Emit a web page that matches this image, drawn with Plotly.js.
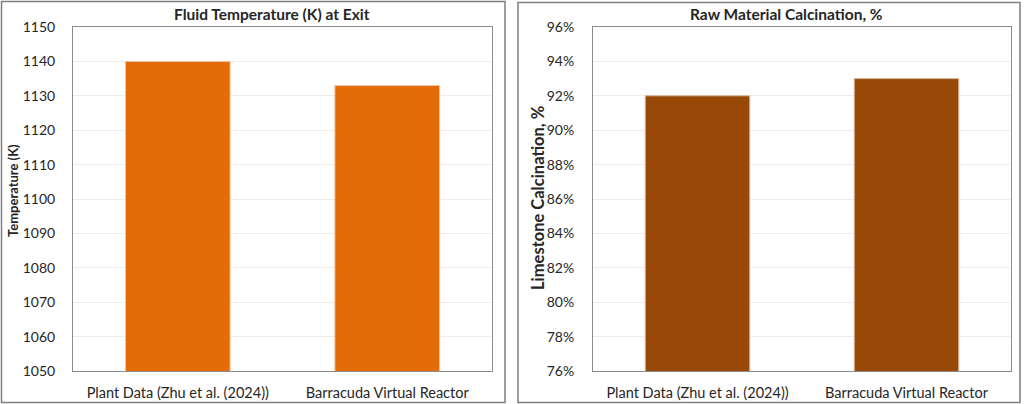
<!DOCTYPE html>
<html><head><meta charset="utf-8">
<script src="https://cdn.plot.ly/plotly-3.0.1.min.js"></script>
<style>html,body{margin:0;padding:0;background:#fff}#chart{width:1024px;height:404px}</style>
</head><body><div id="chart"></div>
<script>
const categories = ["Plant Data (Zhu et al. (2024))", "Barracuda Virtual Reactor"];
const temperatureK = [1140, 1133];
const calcinationPct = [0.92, 0.93];
const leftTitle = "Fluid Temperature (K) at Exit";
const rightTitle = "Raw Material Calcination, %";
const leftYTitle = "Temperature (K)";
const rightYTitle = "Limestone Calcination, %";

const W = 1024, H = 404;
const px = v => v / W, py = v => 1 - v / H;
const FONT = "Lato, 'Open Sans', sans-serif";
const TXT = "#262626";

const traces = [
  {type: "bar", x: categories, y: temperatureK, xaxis: "x", yaxis: "y",
   marker: {color: "#E36C09", line: {color: "#F6C7A0", width: 1}}, hoverinfo: "x+y"},
  {type: "bar", x: categories, y: calcinationPct, xaxis: "x2", yaxis: "y2",
   marker: {color: "#984807", line: {color: "#D8B79A", width: 1}}, hoverinfo: "x+y"}
];

const axBase = {
  showline: true, mirror: true, linecolor: "#8C8C8C", linewidth: 1,
  gridcolor: "#F0ECE6", gridwidth: 1, zeroline: false,
  tickfont: {family: FONT, size: 14, color: TXT},
  ticks: "outside", tickcolor: "rgba(0,0,0,0)", fixedrange: true
};
const xTick = {family: FONT, size: 14.5, color: TXT};

const layout = {
  width: W, height: H, margin: {l: 0, r: 0, t: 0, b: 0},
  paper_bgcolor: "#fff", plot_bgcolor: "#fff", showlegend: false, bargap: 0.5,
  font: {family: FONT, color: TXT},
  xaxis: Object.assign({}, axBase, {domain: [px(73), px(492)], anchor: "y", showgrid: false, ticklen: 9, tickfont: xTick}),
  yaxis: Object.assign({}, axBase, {domain: [py(371), py(27)], anchor: "x", range: [1050, 1150], dtick: 10, ticklen: 14}),
  xaxis2: Object.assign({}, axBase, {domain: [px(593), px(1011)], anchor: "y2", showgrid: false, ticklen: 9, tickfont: xTick}),
  yaxis2: Object.assign({}, axBase, {domain: [py(371), py(27)], anchor: "x2", range: [0.76, 0.96], dtick: 0.02, tickformat: ".0%", ticklen: 15}),
  annotations: [
    {text: "<b>" + leftTitle + "</b>", xref: "paper", yref: "paper", x: px(272), y: py(14), showarrow: false,
     xanchor: "center", yanchor: "middle", font: {family: FONT, size: 15.5, color: TXT}},
    {text: "<b>" + rightTitle + "</b>", xref: "paper", yref: "paper", x: px(786), y: py(14), showarrow: false,
     xanchor: "center", yanchor: "middle", font: {family: FONT, size: 15.5, color: TXT}},
    {text: "<b>" + leftYTitle + "</b>", xref: "paper", yref: "paper", x: px(13), y: py(191), showarrow: false,
     textangle: -90, xanchor: "center", yanchor: "middle", font: {family: FONT, size: 13, color: TXT}},
    {text: "<b>" + rightYTitle + "</b>", xref: "paper", yref: "paper", x: px(538), y: py(198), showarrow: false,
     textangle: -90, xanchor: "center", yanchor: "middle", font: {family: FONT, size: 16.5, color: TXT}}
  ],
  shapes: [
    {type: "rect", xref: "paper", yref: "paper", x0: px(1.5), x1: px(505), y0: py(402.5), y1: py(1.5), line: {color: "#7F7F7F", width: 1.5}},
    {type: "rect", xref: "paper", yref: "paper", x0: px(518), x1: px(1020), y0: py(402.5), y1: py(2.5), line: {color: "#7F7F7F", width: 1.5}}
  ]
};

Plotly.newPlot("chart", traces, layout, {displayModeBar: false, staticPlot: true});
</script></body></html>
